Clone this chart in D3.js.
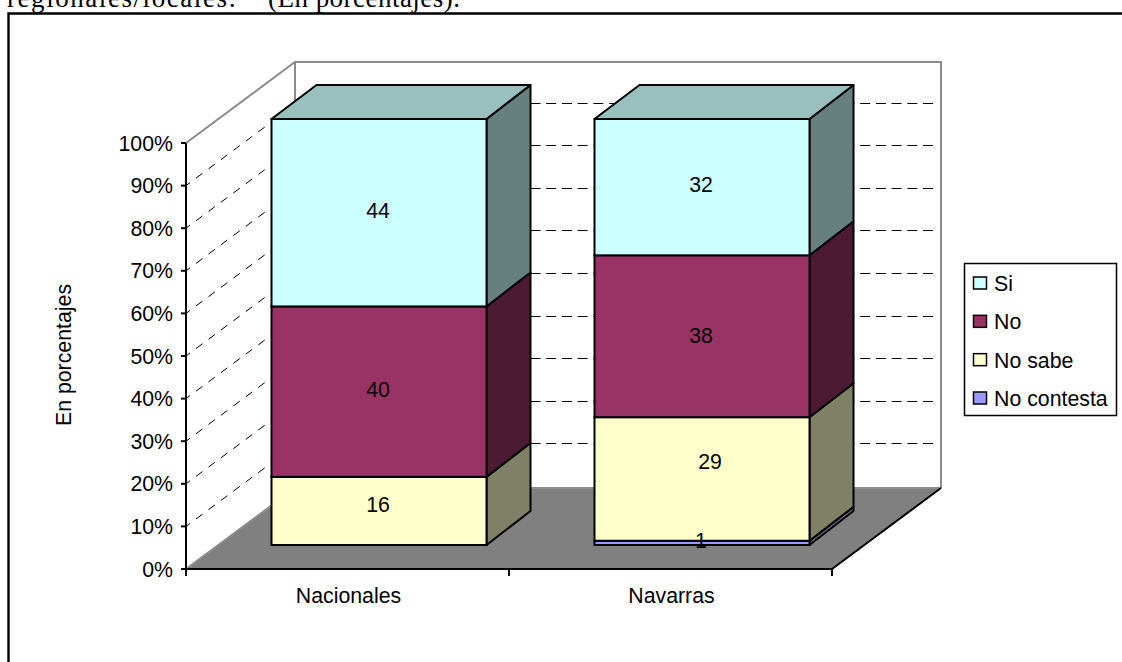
<!DOCTYPE html>
<html><head><meta charset="utf-8">
<script src="https://cdnjs.cloudflare.com/ajax/libs/d3/7.8.5/d3.min.js"></script>
<style>
html,body{margin:0;padding:0;background:#fff}
svg{display:block}
text{font-family:"Liberation Sans",Arial,sans-serif;fill:#000;font-size:21.3px}
</style></head><body>
<div id="c"></div>
<script>
const categories = ["Nacionales", "Navarras"];
const seriesNames = ["No contesta", "No sabe", "No", "Si"];
const noContesta = [0, 1];
const noSabe = [16, 29];
const no = [40, 38];
const si = [44, 32];
const seriesValues = [noContesta, noSabe, no, si];
const frontColors = ["#9999FF", "#FFFFCC", "#993366", "#CCFFFF"];
const sideColors = ["#666680", "#808066", "#4D1A33", "#668080"];
const topColor = "#99BFBF";
const legendOrder = ["Si", "No", "No sabe", "No contesta"];
const yTicks = [0,10,20,30,40,50,60,70,80,90,100];

const W = 1122, H = 662;
const svg = d3.select("#c").append("svg").attr("width", W).attr("height", H);

// Heading fragment, clipped by the top of the page
[["regionales/locales:", 7, 229], ["(En porcentajes).", 268, 192]].forEach(([t, px, len]) => {
  svg.append("text").attr("x", px).attr("y", 6.5).attr("textLength", len).attr("lengthAdjust", "spacing")
    .style("font-family", '"Liberation Serif",serif').style("font-size", "27px").text(t);
});

// Frame: top and left only
svg.append("path").attr("d", "M8.5,662V13.5H1122").attr("fill", "none").attr("stroke", "#000").attr("stroke-width", 2.4);

const y = d3.scaleLinear().domain([0, 100]).range([569, 143]);
const x = d3.scaleBand().domain(categories).range([186, 832]);
const depthX = 109, depthY = 81;
const barOffX = 85.5, barOffY = 24, barW = 215, barDX = 44, barDY = 34;
const x0 = x.range()[0], x1 = x.range()[1];
const poly = pts => "M" + pts.map(p => p.join(",")).join("L") + "Z";

// Floor
svg.append("path").attr("d", poly([[x0, y(0)], [x1, y(0)], [x1 + depthX, y(0) - depthY], [x0 + depthX, y(0) - depthY]])).attr("fill", "#808080");

// Walls
const wall = "#8c8c8c";
svg.append("path").attr("d", `M${x0},${y(0)}L${x0+depthX},${y(0)-depthY}L${x1+depthX},${y(0)-depthY}M${x0},${y(100)}L${x0+depthX},${y(100)-depthY}L${x1+depthX},${y(100)-depthY}L${x1+depthX},${y(0)-depthY}M${x0+depthX},${y(100)-depthY}L${x0+depthX},${y(0)-depthY}`)
  .attr("fill", "none").attr("stroke", wall).attr("stroke-width", 2);

// Dashed gridlines
const grid = svg.append("g").attr("stroke", "#000").attr("stroke-width", 1).attr("fill", "none");
yTicks.slice(1, -1).forEach(t => {
  grid.append("line").attr("x1", x0).attr("y1", y(t)).attr("x2", x0 + depthX).attr("y2", y(t) - depthY).attr("stroke-dasharray", "8 7.5").attr("stroke-dashoffset", 3);
});
yTicks.slice(1, -1).forEach(t => {
  const gy = Math.round(y(t) - depthY - 2) + .5;
  grid.append("line").attr("x1", x1 + depthX - 8).attr("y1", gy).attr("x2", x0 + depthX).attr("y2", gy).attr("stroke-dasharray", "10 5.7");
});

// Axes
const axes = svg.append("g").attr("stroke", "#000").attr("stroke-width", 2).attr("fill", "none");
axes.append("line").attr("x1", x0).attr("y1", y(0)).attr("x2", x1).attr("y2", y(0));
axes.append("line").attr("x1", x1).attr("y1", y(0)).attr("x2", x1 + depthX).attr("y2", y(0) - depthY);
axes.append("line").attr("x1", x0).attr("y1", y(0)).attr("x2", x0).attr("y2", y(100));
yTicks.forEach(t => axes.append("line").attr("x1", x0 - 5).attr("x2", x0).attr("y1", y(t)).attr("y2", y(t)));
[x0, x0 + x.bandwidth(), x1].forEach(v => axes.append("line").attr("x1", v).attr("x2", v).attr("y1", y(0)).attr("y2", y(0) + 7));

yTicks.forEach(t => svg.append("text").attr("x", 173).attr("y", y(t) + 7.5).attr("text-anchor", "end").text(t + "%"));
categories.forEach(c => svg.append("text").attr("x", x(c) + x.bandwidth() / 2 + 1).attr("y", 603).attr("text-anchor", "middle").text(c));
svg.append("text").attr("transform", "translate(71,355) rotate(-90)").attr("text-anchor", "middle").text("En porcentajes");

// Bars
const labelNudge = {"0-1": [0, -6], "0-2": [0, -2], "0-3": [0, -2], "1-1": [9, -17], "1-2": [0, -1], "1-3": [0, -3], "1-0": [0, -2]};
const bars = svg.append("g");
const labels = [];
categories.forEach((c, i) => {
  let acc = 0;
  const bx = x(c) + barOffX;
  seriesValues.forEach((vals, s) => {
    const v = vals[i];
    if (!v) return;
    const yb = y(acc) - barOffY, yt = y(acc + v) - barOffY;
    bars.append("path").attr("d", poly([[bx + barW, yb], [bx + barW + barDX, yb - barDY], [bx + barW + barDX, yt - barDY], [bx + barW, yt]]))
      .attr("fill", sideColors[s]).attr("stroke", "#000").attr("stroke-width", 2).attr("stroke-linejoin", "round");
    bars.append("rect").attr("x", bx).attr("y", yt).attr("width", barW).attr("height", yb - yt)
      .attr("fill", frontColors[s]).attr("stroke", "#000").attr("stroke-width", 2);
    const n = labelNudge[i + "-" + s] || [0, 0];
    labels.push({x: bx + barW / 2 + n[0] - 1, y: (yb + yt) / 2 + n[1] + 7.5, t: v});
    acc += v;
  });
  const yt = y(acc) - barOffY;
  bars.append("path").attr("d", poly([[bx, yt], [bx + barDX + 1, yt - barDY], [bx + barW + barDX, yt - barDY], [bx + barW, yt]]))
    .attr("fill", topColor).attr("stroke", "#000").attr("stroke-width", 2).attr("stroke-linejoin", "round");
});
labels.forEach(l => svg.append("text").attr("x", l.x).attr("y", l.y).attr("text-anchor", "middle").text(l.t));

// Legend
const lg = svg.append("g");
lg.append("rect").attr("x", 964.5).attr("y", 263.5).attr("width", 152).attr("height", 152).attr("fill", "#fff").attr("stroke", "#000").attr("stroke-width", 1.5);
const legY = d3.scalePoint().domain(legendOrder).range([283, 398]);
legendOrder.forEach(n => {
  const s = seriesNames.indexOf(n);
  lg.append("rect").attr("x", 973.5).attr("y", legY(n) - 6).attr("width", 13).attr("height", 12).attr("fill", frontColors[s]).attr("stroke", "#000").attr("stroke-width", 1.5);
  lg.append("text").attr("x", 994).attr("y", legY(n) + 8).text(n);
});
</script>
</body></html>
